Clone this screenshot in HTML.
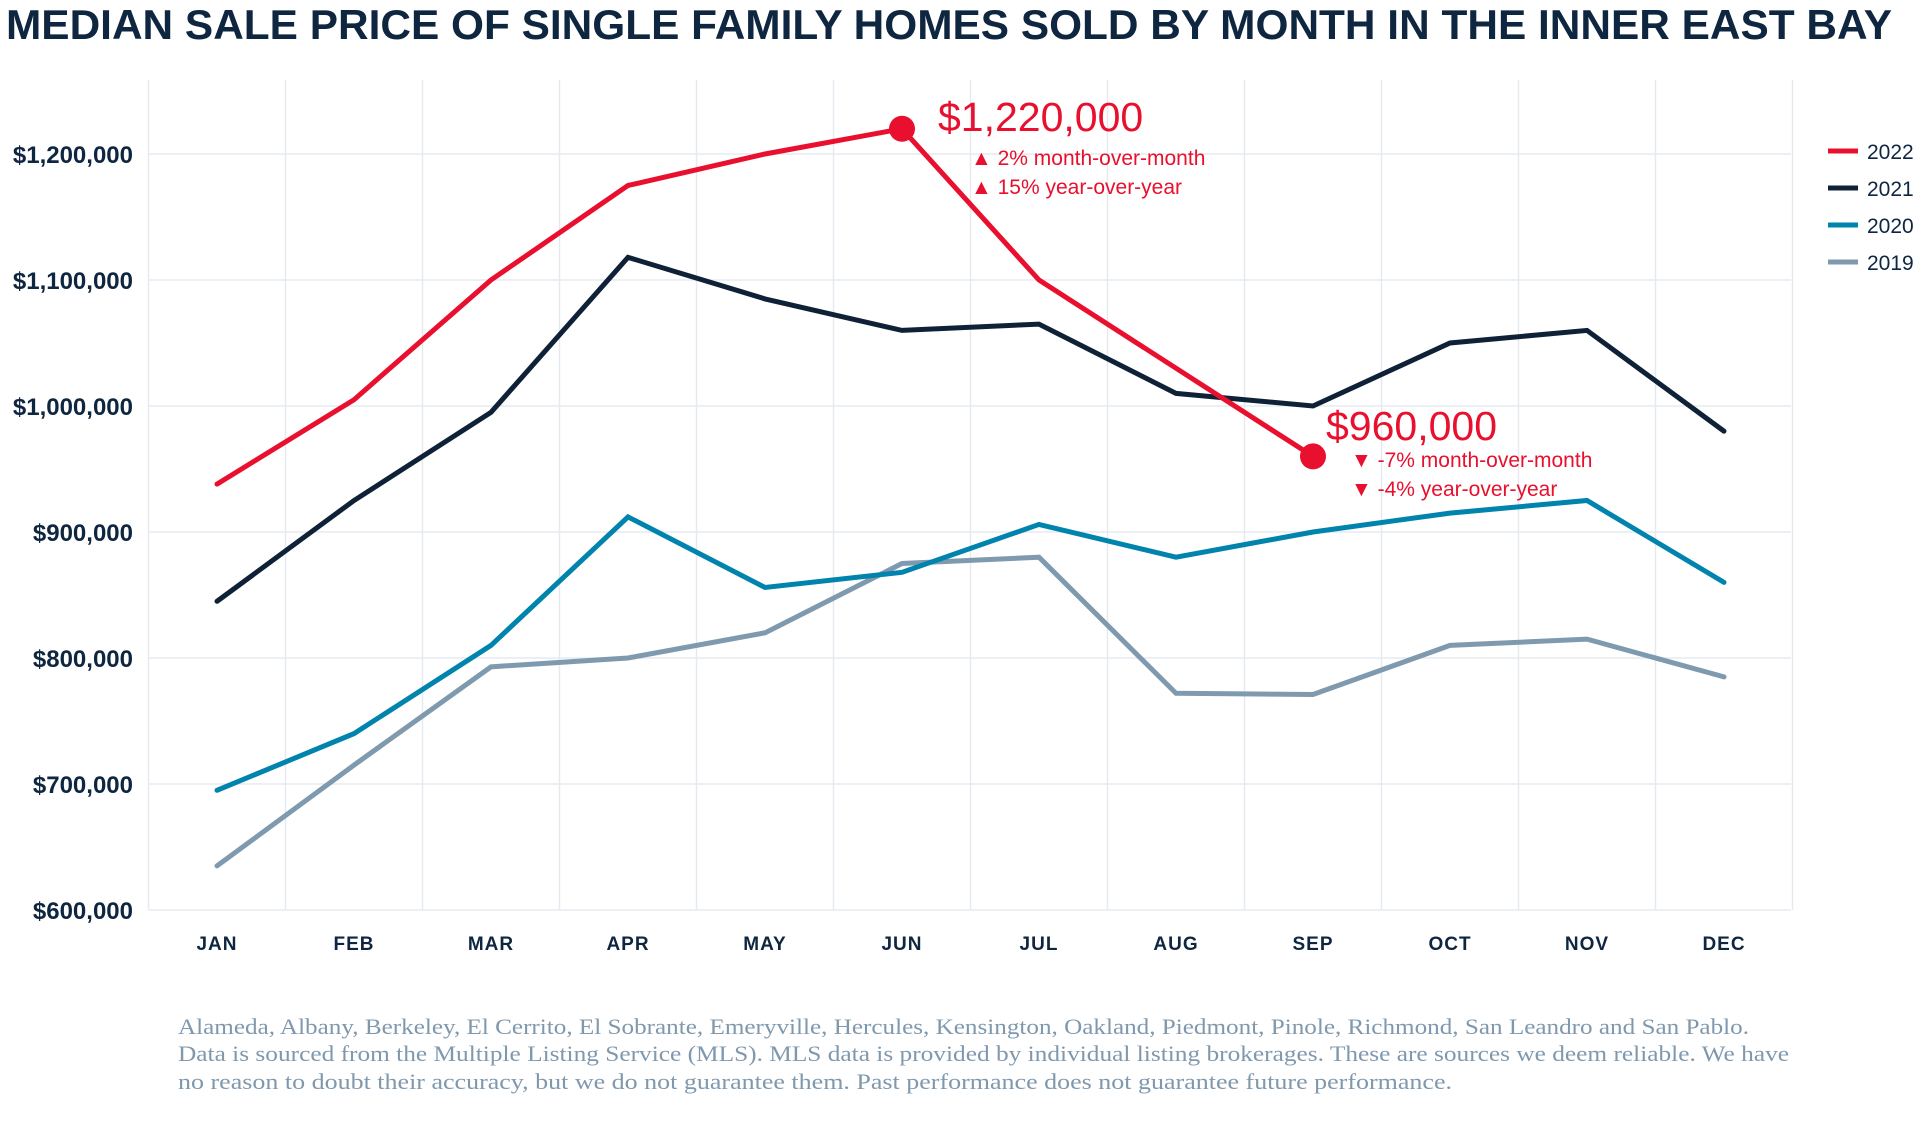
<!DOCTYPE html>
<html><head><meta charset="utf-8"><style>
html,body{margin:0;padding:0;background:#fff;}
svg{display:block;font-family:"Liberation Sans",sans-serif;}
</style></head><body>
<svg id="chart" width="1920" height="1138" viewBox="0 0 1920 1138" xmlns="http://www.w3.org/2000/svg">
<text x="6" y="39" font-size="42" font-weight="bold" fill="#0f2640" textLength="1886" lengthAdjust="spacingAndGlyphs">MEDIAN SALE PRICE OF SINGLE FAMILY HOMES SOLD BY MONTH IN THE INNER EAST BAY</text>
<g id="grid"></g>
<g id="yaxis"></g>
<g id="xaxis"></g>
<g id="series"></g>
<g id="annot"></g>
<g id="legend"></g>
<g font-family="'Liberation Serif',serif" font-size="22" fill="#7f98ad">
<text x="178" y="1034" textLength="1571" lengthAdjust="spacingAndGlyphs">Alameda, Albany, Berkeley, El Cerrito, El Sobrante, Emeryville, Hercules, Kensington, Oakland, Piedmont, Pinole, Richmond, San Leandro and San Pablo.</text>
<text x="178" y="1061" textLength="1611" lengthAdjust="spacingAndGlyphs">Data is sourced from the Multiple Listing Service (MLS). MLS data is provided by individual listing brokerages. These are sources we deem reliable. We have</text>
<text x="178" y="1089" textLength="1274" lengthAdjust="spacingAndGlyphs">no reason to doubt their accuracy, but we do not guarantee them. Past performance does not guarantee future performance.</text>
</g>
</svg>
<script>
const months = ["JAN","FEB","MAR","APR","MAY","JUN","JUL","AUG","SEP","OCT","NOV","DEC"];
const yTicks = [600000,700000,800000,900000,1000000,1100000,1200000];
const years = ["2022","2021","2020","2019"];
const s2022 = [938000,1005000,1100000,1175000,1200000,1220000,1100000,1030000,960000];
const s2021 = [845000,925000,995000,1118000,1085000,1060000,1065000,1010000,1000000,1050000,1060000,980000];
const s2020 = [695000,740000,810000,912000,856000,868000,906000,880000,900000,915000,925000,860000];
const s2019 = [635000,715000,793000,800000,820000,875000,880000,772000,771000,810000,815000,785000];
const colors = {"2022":"#e8102e","2021":"#0f2137","2020":"#0083ad","2019":"#7f9aae"};

const NS="http://www.w3.org/2000/svg";
const X0=217, DX=137, YTOP=154, YBOT=910, VMIN=600000, VMAX=1200000;
const xs = i => X0 + i*DX;
const ys = v => YTOP + (VMAX - v)/(VMAX-VMIN)*(YBOT-YTOP);
function mk(tag, attrs, parent){const e=document.createElementNS(NS,tag);for(const k in attrs)e.setAttribute(k,attrs[k]);parent.appendChild(e);return e;}
const grid=document.getElementById('grid'), ya=document.getElementById('yaxis'), xa=document.getElementById('xaxis');
for(let k=0;k<=12;k++){
  const l=mk('line',{x1:xs(k)-68.5,x2:xs(k)-68.5,y1:80,y2:YBOT,stroke:'#e6eaef','stroke-width':1.5},grid);
  
  
}
yTicks.forEach(v=>{
  const l=mk('line',{x1:148.5,x2:1791,y1:ys(v),y2:ys(v),stroke:'#e6eaef','stroke-width':1.5},grid);
  
  
  const t=mk('text',{x:133,y:ys(v)+9,'text-anchor':'end','font-size':24,'font-weight':'bold',fill:'#0f2640'},ya);
  t.textContent='$'+v.toLocaleString('en-US');
  
  
});
months.forEach((m,i)=>{
  const t=mk('text',{x:xs(i),y:950,'text-anchor':'middle','font-size':19,'font-weight':'bold',fill:'#0f2640','letter-spacing':'1'},xa);
  t.textContent=m;
  
  
});
const sg=document.getElementById('series');
const data={"2019":s2019,"2020":s2020,"2021":s2021,"2022":s2022};
["2019","2020","2021","2022"].forEach(y=>{
  const pts=data[y].map((v,i)=>xs(i)+','+ys(v)).join(' ');
  const p=mk('polyline',{points:pts,fill:'none',stroke:colors[y],'stroke-width':5,'stroke-linejoin':'miter','stroke-linecap':'round'},sg);
  
  
});
const an=document.getElementById('annot');
function annotate(i,label,l1,l2,up,tx,ty,sx,sy1,sy2){
  const v=s2022[i];
  const c=mk('circle',{cx:xs(i),cy:ys(v),r:13,fill:colors["2022"]},an);
  
  
  const t=mk('text',{x:tx,y:ty,'font-size':41,fill:colors["2022"]},an);
  t.textContent=label;
  
  
  [[l1,sy1],[l2,sy2]].forEach(([s,yy])=>{
    const tt=mk('text',{x:sx,y:yy,'font-size':21,fill:colors["2022"]},an);
    tt.textContent=(up?'▲ ':'▼ ')+s;
    
    
  });
}
annotate(5,'$1,220,000','2% month-over-month','15% year-over-year',true,938,131,971,165,194);
annotate(8,'$960,000','-7% month-over-month','-4% year-over-year',false,1326,440,1351,467,496);
const lg=document.getElementById('legend');
years.forEach((y,k)=>{
  const cy=151+k*37;
  const l=mk('line',{x1:1828,x2:1858,y1:cy,y2:cy,stroke:colors[y],'stroke-width':5},lg);
  
  
  const t=mk('text',{x:1867,y:cy+8,'font-size':21,fill:'#0f2640'},lg);
  t.textContent=y;
  
  
});
</script>
</body></html>
